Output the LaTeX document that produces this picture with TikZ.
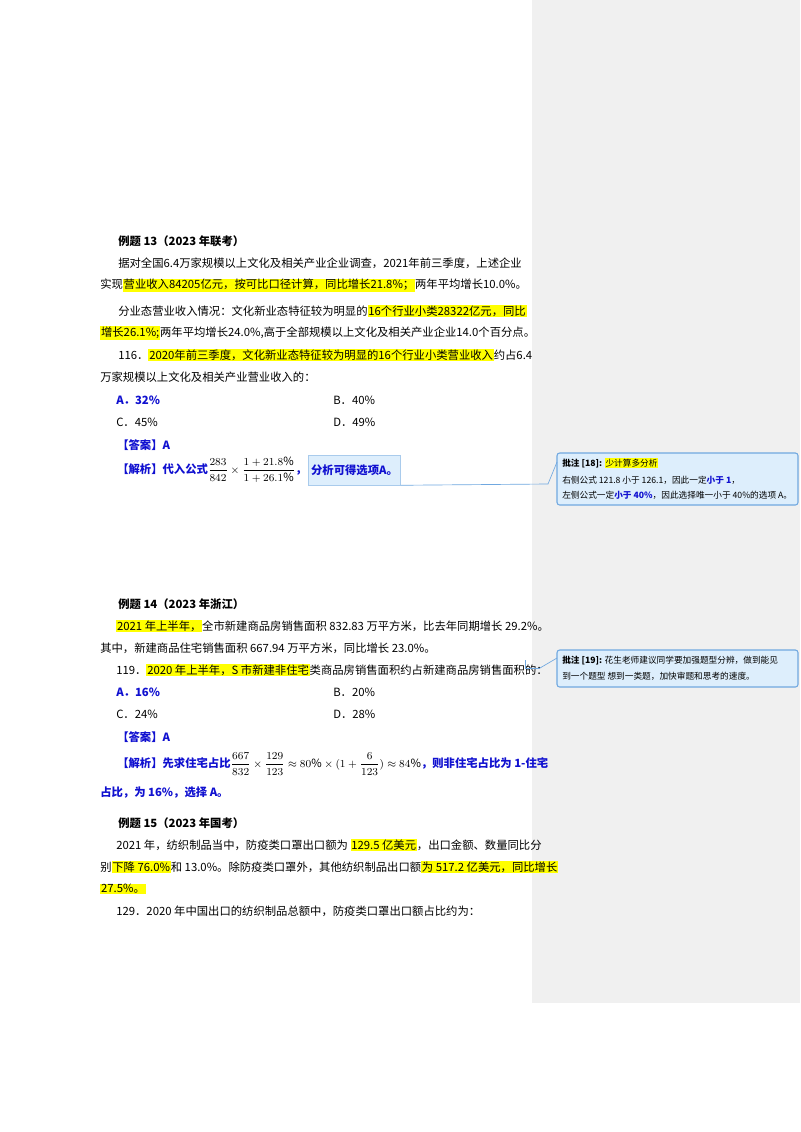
\documentclass[tikz,border=0pt]{standalone}
\usepackage{fontspec}
\usepackage{amsmath}
\setmainfont{Noto Sans CJK SC}
\definecolor{hlc}{HTML}{FFFF00}
\definecolor{ansb}{HTML}{1010D0}
\definecolor{side}{HTML}{F0F0F0}
\definecolor{cfill}{HTML}{DDEEFC}
\definecolor{cline}{HTML}{70A8E0}
\newcommand{\hlt}[1]{{\setlength\fboxsep{0.6pt}\colorbox{hlc}{#1}}}
\newcommand{\bl}[1]{\textcolor{ansb}{\bfseries #1}}
\begin{document}
\begin{tikzpicture}[x=0.75pt,y=-0.75pt,
  t/.style={anchor=west,inner sep=0pt,font=\fontsize{8.5}{10}\selectfont},
  tb/.style={t,font=\fontsize{8.5}{10}\selectfont\bfseries},
  c/.style={anchor=west,inner sep=0pt,font=\fontsize{6.5}{8}\selectfont},
  cbox/.style={draw=cline,fill=cfill,rounded corners=2pt,line width=0.8pt},
  conn/.style={draw=cline,line width=0.5pt}]
\useasboundingbox (0,0) rectangle (800,1132);
\fill[white] (0,0) rectangle (800,1132);
\fill[side] (532,0) rectangle (800,1003);
% Example 13
\node[tb] at (118,241) {例题 13（2023 年联考）};
\node[t] at (118,263) {据对全国6.4万家规模以上文化及相关产业企业调查，2021年前三季度，上述企业};
\node[t] at (100,285) {实现\hlt{营业收入84205亿元，按可比口径计算，同比增长21.8\%；}两年平均增长10.0\%。};
\node[t] at (118,311) {分业态营业收入情况：文化新业态特征较为明显的\hlt{16个行业小类28322亿元，同比}};
\node[t] at (100,333) {\hlt{增长26.1\%;}两年平均增长24.0\%,高于全部规模以上文化及相关产业企业14.0个百分点。};
\node[t] at (118,355) {116．\hlt{2020年前三季度，文化新业态特征较为明显的16个行业小类营业收入}约占6.4};
\node[t] at (100,377) {万家规模以上文化及相关产业营业收入的：};
\node[t] at (116,400) {\bl{A．32\%}};
\node[t] at (333,400) {B．40\%};
\node[t] at (116,422) {C．45\%};
\node[t] at (333,422) {D．49\%};
\node[t] at (117,445) {\bl{【答案】A}};
\node[t] (j1) at (117,470) {\bl{【解析】代入公式}$\displaystyle\frac{283}{842}\times\frac{1+21.8\%}{1+26.1\%}$\bl{，}};
\node[anchor=west,fill=cfill,draw=cline!60,line width=0.4pt,minimum height=22.5pt,inner sep=2pt,font=\fontsize{8.5}{10}\selectfont] (box1) at ([xshift=1pt]j1.east) {\bl{分析可得选项A。}};
% comment 1
\draw[cbox] (557,453) rectangle (798,505);
\coordinate (c1) at (557,462);
\node[c] at (562,463) {\textbf{批注 [18]:} \hlt{少计算多分析}};
\node[c] at (562,480) {右侧公式 121.8 小于 126.1，因此一定\bl{小于 1}，};
\node[c] at (562,495) {左侧公式一定\bl{小于 40\%}，因此选择唯一小于 40\%的选项 A。};
\draw[conn] (box1.south east) -- (548,484) -- (c1);
% Example 14
\node[tb] at (118,604) {例题 14（2023 年浙江）};
\node[t] at (116,626) {\hlt{2021 年上半年，}全市新建商品房销售面积 832.83 万平方米，比去年同期增长 29.2\%。};
\node[t] at (100,648) {其中，新建商品住宅销售面积 667.94 万平方米，同比增长 23.0\%。};
\node[t] at (116,670) {119．\hlt{2020 年上半年，S 市新建非住宅}类商品房销售面积约占新建商品房销售面积的：};
\coordinate (m2) at (525,668);
\draw[conn] (525,660) -- (m2) -- (540,668);
\coordinate (c2) at (557,658);
\draw[cbox] (557,650) rectangle (798,687);
\draw[conn] (540,668) -- (c2);
\node[c] at (562,661) {\textbf{批注 [19]:} 花生老师建议同学要加强题型分辨，做到能见};
\node[c] at (562,676) {到一个题型 想到一类题，加快审题和思考的速度。};
\node[t] at (116,692) {\bl{A．16\%}};
\node[t] at (333,692) {B．20\%};
\node[t] at (116,714) {C．24\%};
\node[t] at (333,714) {D．28\%};
\node[t] at (117,737) {\bl{【答案】A}};
\node[t] at (117,764) {\bl{【解析】先求住宅占比}$\displaystyle\frac{667}{832}\times\frac{129}{123}\approx80\%\times(1+\frac{6}{123})\approx84\%$\bl{，则非住宅占比为 1-住宅}};
\node[t] at (100,793) {\bl{占比，为 16\%，选择 A。}};
% Example 15
\node[tb] at (118,823) {例题 15（2023 年国考）};
\node[t] at (116,845) {2021 年，纺织制品当中，防疫类口罩出口额为 \hlt{129.5 亿美元}，出口金额、数量同比分};
\node[t] at (100,867) {别\hlt{下降 76.0\%}和 13.0\%。除防疫类口罩外，其他纺织制品出口额\hlt{为 517.2 亿美元，同比增长}};
\node[t] at (100,889) {\hlt{27.5\%。}};
\node[t] at (116,911) {129．2020 年中国出口的纺织制品总额中，防疫类口罩出口额占比约为：};
\end{tikzpicture}
\end{document}
